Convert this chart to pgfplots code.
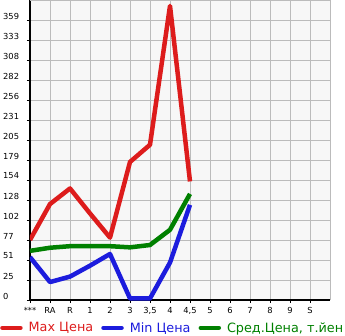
\documentclass[border=0pt]{standalone}
\usepackage{fontspec}
\setmainfont{DejaVu Sans}
\usepackage{pgfplots}
\pgfplotsset{compat=1.18}
\definecolor{cmax}{RGB}{221,28,28}
\definecolor{cmin}{RGB}{28,28,221}
\definecolor{cavg}{RGB}{0,128,0}
\definecolor{bgc}{RGB}{247,247,247}
\definecolor{gridc}{RGB}{187,187,187}
\begin{document}
\begin{tikzpicture}
\path[use as bounding box] (-30pt,-35pt) rectangle (315pt,300pt);
\begin{axis}[
  at={(0pt,0pt)}, anchor=south west,
  scale only axis, width=300pt, height=300pt,
  xmin=0, xmax=15, ymin=0, ymax=384.6,
  axis x line=bottom, axis y line=left,
  axis line style={-, black, line width=1.6pt},
  axis background/.style={fill=bgc},
  grid=major, grid style={gridc, line width=0.8pt},
  tick align=outside, major tick length=3pt,
  tick style={black, line width=0.8pt},
  xtick={0,1,2,3,4,5,6,7,8,9,10,11,12,13,14},
  xticklabels={***,RA,R,1,2,3,{3,5},4,{4,5},5,6,7,8,9,S},
  extra x ticks={15}, extra x tick labels={},
  extra x tick style={tick style={draw=none}},
  ytick={0,25.64,51.28,76.92,102.56,128.2,153.84,179.48,205.12,230.76,256.4,282.04,307.68,333.32,358.96},
  yticklabels={0,25,51,77,102,128,154,179,205,231,256,282,308,333,359},
  extra y ticks={384.6}, extra y tick labels={},
  extra y tick style={tick style={draw=none}},
  ticklabel style={font=\fontsize{8.3}{9}\selectfont},
  yticklabel style={anchor=west, inner sep=0pt, xshift=-24pt, yshift=4pt},
  xticklabel style={yshift=-1pt},
  /pgf/number format/assume math mode=true,
  clip=true,
  legend columns=3,
  legend style={at={(rel axis cs:-0.1,-0.093)}, anchor=west, draw=none, fill=none,
    inner sep=0pt, font=\fontsize{12.8}{14}\selectfont,
    /tikz/every even column/.append style={column sep=6pt}},
  legend image code/.code={\draw[line width=4.5pt, line cap=round] (2pt,0pt) -- (20pt,0pt);},
  every axis plot/.append style={line width=4.5pt, line join=round},
]
\addplot[cmax] coordinates {(0,77) (1,123) (2,143) (3,111) (4,80) (5,177) (6,199) (7,377) (8,152)};
\addlegendentry{\hspace{4pt}\textcolor{cmax}{Max Цена}}
\addplot[cmin] coordinates {(0,55) (1,23) (2,30) (3,44) (4,59) (5,2) (6,2) (7,48) (8,122)};
\addlegendentry{\hspace{4pt}\textcolor{cmin}{Min Цена}}
\addplot[cavg] coordinates {(0,63) (1,67) (2,69) (3,69) (4,69) (5,67.5) (6,70.5) (7,90) (8,136)};
\addlegendentry{\hspace{4pt}\textcolor{cavg}{Сред.Цена, т.йен}}
\end{axis}
\end{tikzpicture}
\end{document}
